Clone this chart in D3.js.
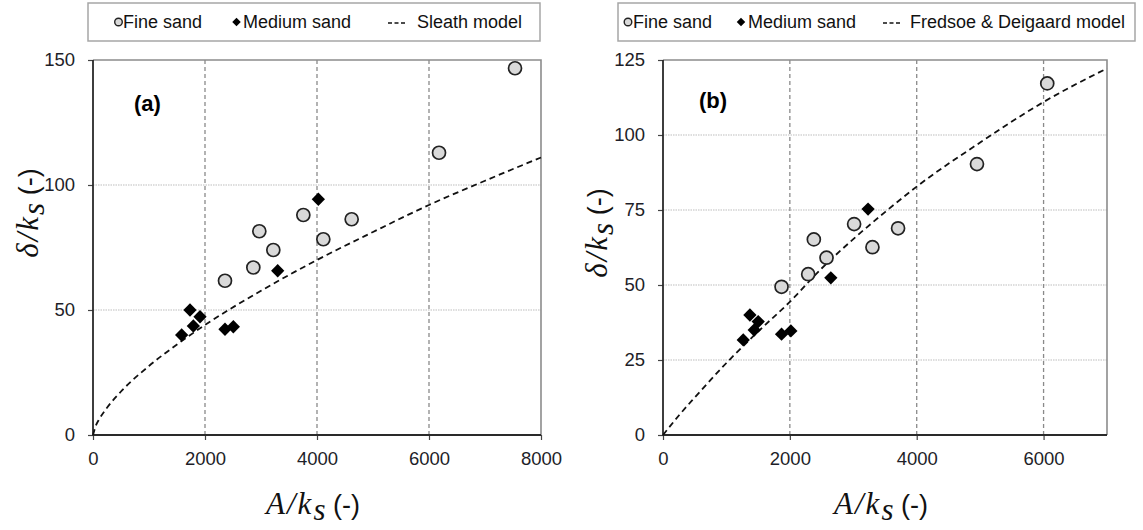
<!DOCTYPE html>
<html>
<head>
<meta charset="utf-8">
<script src="https://cdn.jsdelivr.net/npm/d3@7"></script>
<style>
body { margin: 0; background: #fff; }
svg { display: block; }
.tick text { font-family: 'Liberation Sans', Arial, sans-serif; font-size: 18.5px; fill: #1e1e28; }
.legend-text { font-family: 'Liberation Sans', Arial, sans-serif; font-size: 18px; fill: #111; }
.panel-tag { font-family: 'Liberation Sans', Arial, sans-serif; font-weight: bold; font-size: 22px; fill: #000; }
.math { font-family: 'Liberation Serif', 'Times New Roman', serif; font-style: italic; font-size: 31px; fill: #111; }
.plain { font-family: 'Liberation Sans', Arial, sans-serif; font-style: normal; font-size: 27px; fill: #111; }
</style>
</head>
<body>
<div id="chart"></div>
<script>

// ====== data
var fineSandA = [[2357,61.7],[2863,67],[2970,81.5],[3220,74],[3756,88],[4113,78.3],[4619,86.3],[6179,112.9],[7536,146.7]]
var mediumSandA = [[1583,40],[1732,50],[1792,43.6],[1911,47.3],[2357,42.3],[2506,43.3],[3298,65.7],[4024,94.3]]
var sleathModel = [[0,0],[50,3.7],[100,5.9],[250,10.9],[500,17.4],[1000,27.6],[1500,36.2],[2000,44],[3000,57.7],[4000,70],[5000,81.2],[6000,92],[7000,101.7],[8000,111]]

var fineSandB = [[1869,49.4],[2289,53.6],[2378,65.2],[2578,59.1],[3013,70.3],[3302,62.6],[3706,68.9],[4950,90.3],[6058,117.2]]
var mediumSandB = [[1265,31.7],[1370,40],[1438,35],[1501,37.8],[1869,33.6],[2016,34.7],[2646,52.4],[3233,75.3]]
var fredsoeModel = [[0,0],[250,6.5],[500,12.5],[1000,24],[1500,34.5],[2000,44.4],[2500,55.5],[3000,65.3],[3500,74.3],[4000,82.8],[5000,97.5],[6000,111],[7000,122.2]]

var xTicksA = [0,2000,4000,6000,8000]
var yTicksA = [0,50,100,150]
var xTicksB = [0,2000,4000,6000]
var yTicksB = [0,25,50,75,100,125]

var W = 1143, H = 530

var svg = d3.select('#chart').append('svg')
	.attr('width', W)
	.attr('height', H)

var panels = [
	{
		tag: '(a)', modelName: 'Sleath model',
		fine: fineSandA, medium: mediumSandA, model: sleathModel,
		xTicks: xTicksA, yTicks: yTicksA, xMax: 8000, yMax: 150,
		left: 93, right: 541, top: 60, bottom: 435,
		tagX: 134, tagY: 111, yTitleX: 38, yTitleY: 213,
		legend: { x: 88, w: 452, circle: 118.5, fineText: 123, diamond: 236.5, medText: 243, dash: 388, modelText: 417 }
	},
	{
		tag: '(b)', modelName: 'Fredsoe & Deigaard model',
		fine: fineSandB, medium: mediumSandB, model: fredsoeModel,
		xTicks: xTicksB, yTicks: yTicksB, xMax: 7000, yMax: 125,
		left: 663, right: 1107, top: 60, bottom: 435,
		tagX: 699, tagY: 108, yTitleX: 607, yTitleY: 233,
		legend: { x: 618, w: 517, circle: 628, fineText: 633, diamond: 741, medText: 748, dash: 883, modelText: 910 }
	}
]

var circleStyle = function(sel, r, sw) {
	sel.attr('r', r)
		.attr('fill', '#d9d9d9')
		.attr('stroke', '#222')
		.attr('stroke-width', sw)
}

var diamondPath = function(size) {
	return d3.symbol().type(d3.symbolSquare).size(size)()
}

var mathTitle = function(g, first) {
	var t = g.append('text').attr('text-anchor', 'middle')
	t.append('tspan').attr('class', 'math').attr('letter-spacing', 2).text(first + '/k')
	t.append('tspan').attr('class', 'math').attr('font-size', 19).attr('dy', 6).text('s')
	t.append('tspan').attr('class', 'plain').attr('dy', -6).text('\u00a0(-)')
	return t
}

panels.forEach(function(p) {

	var x = d3.scaleLinear().domain([0, p.xMax]).range([p.left, p.right])
	var y = d3.scaleLinear().domain([0, p.yMax]).range([p.bottom, p.top])

	var g = svg.append('g')

	// gridlines
	g.selectAll('.hgrid')
		.data(p.yTicks.filter(function(d) { return d > 0 && d < p.yMax }))
		.enter().append('line')
		.attr('x1', p.left).attr('x2', p.right)
		.attr('y1', function(d) { return y(d) }).attr('y2', function(d) { return y(d) })
		.attr('stroke', '#bdbdbd').attr('stroke-width', 1.2).attr('stroke-dasharray', '1.5,1')

	g.selectAll('.vgrid')
		.data(p.xTicks.filter(function(d) { return d > 0 && d < p.xMax }))
		.enter().append('line')
		.attr('y1', p.top).attr('y2', p.bottom)
		.attr('x1', function(d) { return x(d) }).attr('x2', function(d) { return x(d) })
		.attr('stroke', '#8a8a8a').attr('stroke-width', 1.3).attr('stroke-dasharray', '4,3')

	// frame (top/right grey)
	g.append('path')
		.attr('d', 'M' + p.left + ',' + p.top + 'H' + p.right + 'V' + p.bottom)
		.attr('fill', 'none').attr('stroke', '#8c8c8c').attr('stroke-width', 1.6)

	// axes
	var fmt = d3.format('d')
	var axL = g.append('g').attr('transform', 'translate(' + p.left + ',0)')
		.call(d3.axisLeft(y).tickValues(p.yTicks).tickFormat(fmt).tickSize(5).tickPadding(13))
	var axB = g.append('g').attr('transform', 'translate(0,' + p.bottom + ')')
		.call(d3.axisBottom(x).tickValues(p.xTicks).tickFormat(fmt).tickSize(5).tickPadding(12))
	;[axL, axB].forEach(function(a) {
		a.select('.domain').remove()
		a.selectAll('.tick line').attr('stroke', '#444').attr('stroke-width', 1.2)
		a.attr('font-family', null).attr('font-size', null)
	})

	g.append('path')
		.attr('d', 'M' + p.left + ',' + p.top + 'V' + p.bottom + 'H' + p.right)
		.attr('fill', 'none').attr('stroke', '#2a2a2a').attr('stroke-width', 1.8)

	// model curve
	var line = d3.line()
		.x(function(d) { return x(d[0]) })
		.y(function(d) { return y(d[1]) })
		.curve(d3.curveMonotoneX)

	g.append('path')
		.datum(p.model)
		.attr('d', line)
		.attr('fill', 'none')
		.attr('stroke', '#111')
		.attr('stroke-width', 1.8)
		.attr('stroke-dasharray', '6,4')

	// points
	g.selectAll('.fine')
		.data(p.fine)
		.enter().append('circle')
		.attr('cx', function(d) { return x(d[0]) })
		.attr('cy', function(d) { return y(d[1]) })
		.call(circleStyle, 6.5, 1.7)

	g.selectAll('.medium')
		.data(p.medium)
		.enter().append('path')
		.attr('d', diamondPath(88))
		.attr('transform', function(d) { return 'translate(' + x(d[0]) + ',' + y(d[1]) + ') rotate(45)' })
		.attr('fill', '#000')

	// panel tag
	g.append('text').attr('class', 'panel-tag').attr('x', p.tagX).attr('y', p.tagY).text(p.tag)

	// axis titles
	mathTitle(g.append('g').attr('transform', 'translate(' + ((p.left + p.right) / 2 - 4) + ',514)'), 'A')
	mathTitle(g.append('g').attr('transform', 'translate(' + p.yTitleX + ',' + p.yTitleY + ') rotate(-90)'), '\u03b4')

	// legend
	var L = p.legend
	var lg = g.append('g')
	lg.append('rect')
		.attr('x', L.x).attr('y', 3).attr('width', L.w).attr('height', 38)
		.attr('fill', '#fff').attr('stroke', '#a6a6a6').attr('stroke-width', 1.5)
	lg.append('circle').attr('cx', L.circle).attr('cy', 22).call(circleStyle, 3.8, 1.4)
	lg.append('text').attr('class', 'legend-text').attr('x', L.fineText).attr('y', 28).text('Fine sand')
	lg.append('path').attr('d', diamondPath(36))
		.attr('transform', 'translate(' + L.diamond + ',22) rotate(45)').attr('fill', '#000')
	lg.append('text').attr('class', 'legend-text').attr('x', L.medText).attr('y', 28).text('Medium sand')
	lg.append('line')
		.attr('x1', L.dash).attr('x2', L.dash + 17).attr('y1', 23).attr('y2', 23)
		.attr('stroke', '#111').attr('stroke-width', 1.3).attr('stroke-dasharray', '4,2.5')
	lg.append('text').attr('class', 'legend-text').attr('x', L.modelText).attr('y', 28).text(p.modelName)
})

</script>
</body>
</html>
